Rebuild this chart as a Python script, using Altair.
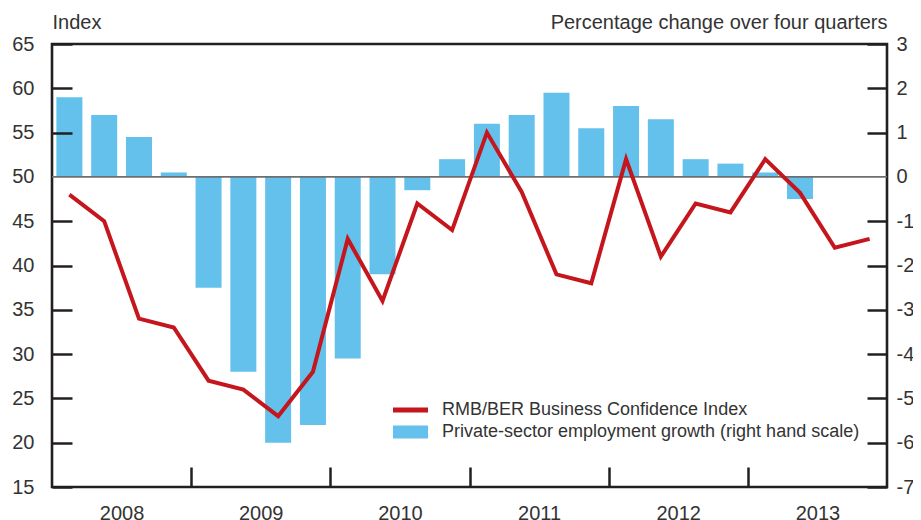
import altair as alt
import pandas as pd

QUARTERS = ["2008Q1", "2008Q2", "2008Q3", "2008Q4",
            "2009Q1", "2009Q2", "2009Q3", "2009Q4",
            "2010Q1", "2010Q2", "2010Q3", "2010Q4",
            "2011Q1", "2011Q2", "2011Q3", "2011Q4",
            "2012Q1", "2012Q2", "2012Q3", "2012Q4",
            "2013Q1", "2013Q2", "2013Q3", "2013Q4"]
YEARS = ["2008", "2009", "2010", "2011", "2012", "2013"]

# RMB/BER Business Confidence Index (left scale)
BCI = [48, 45, 34, 33, 27, 26, 23, 28, 43, 36, 47, 44,
       55, 48.3, 39, 38, 52, 41, 47, 46, 52, 48.2, 42, 43]
# Private-sector employment growth, % change over four quarters (right scale)
EMP = [1.8, 1.4, 0.9, 0.1, -2.5, -4.4, -6.0, -5.6, -4.1, -2.2, -0.3, 0.4,
       1.2, 1.4, 1.9, 1.1, 1.6, 1.3, 0.4, 0.3, 0.1, -0.5]

LEFT_TICKS = [15, 20, 25, 30, 35, 40, 45, 50, 55, 60, 65]
RIGHT_TICKS = [-7, -6, -5, -4, -3, -2, -1, 0, 1, 2, 3]
SERIES = ["RMB/BER Business Confidence Index",
          "Private-sector employment growth (right hand scale)"]

RED = "#c4161c"
BLUE = "#63c1ec"
GRAY = "#6d6e71"
FRAME = "#231f20"
TXT = "#333333"
FONT = "Liberation Sans"

LINE_SYM = "M-1,-0.14H1V0.14H-1Z"
BAR_SYM = "M-1,-0.37H1V0.37H-1Z"

idx = list(range(len(QUARTERS)))
bci_df = pd.DataFrame({"q": idx, "quarter": QUARTERS, "bci": BCI})
emp_df = pd.DataFrame({"q": idx[:len(EMP)], "quarter": QUARTERS[:len(EMP)], "emp": EMP})
zero_df = pd.DataFrame({"z": [0]})
leg_df = pd.DataFrame({"series": SERIES})

W, H = 835, 443

year_arr = "[" + ",".join("'%s'" % y for y in YEARS) + "]"
x_axis = alt.Axis(values=[3.5, 7.5, 11.5, 15.5, 19.5, 23.5],
                  labelExpr=year_arr + "[floor(datum.value / 4)]",
                  labelOffset={"expr": "-width / 12"}, offset=-20, tickSize=20,
                  labelPadding=16, title=None, grid=False, domain=False,
                  labelFlush=False, labelOverlap=False, zindex=1,
                  tickOpacity={"condition": {"test": "datum.value > 23", "value": 0}, "value": 1})
x_enc = alt.X("q:Q", scale=alt.Scale(domain=[-0.5, 23.5], nice=False, zero=False, padding=0),
              axis=x_axis)

right_scale = alt.Scale(domain=[-7, 3], nice=False, zero=False)
right_axis = alt.Axis(orient="right", values=RIGHT_TICKS, labelExpr="'' + datum.value",
                      title="Percentage change over four quarters", titleAngle=0,
                      titleAlign="right", titleBaseline="alphabetic",
                      titleX=20, titleY=-16, offset=-20, tickSize=20,
                      labelPadding=9, grid=False, domain=False, zindex=1,
                      tickOpacity={"condition": {"test": "datum.value == 0", "value": 0}, "value": 1})

left_axis = alt.Axis(orient="left", values=LEFT_TICKS, labelExpr="'' + datum.value",
                     title="Index", titleAngle=0, titleAlign="left",
                     titleBaseline="alphabetic", titleX=-20, titleY=-16,
                     offset=-20, tickSize=20, labelPadding=18, grid=False,
                     domain=False, zindex=1,
                     tickOpacity={"condition": {"test": "datum.value == 50", "value": 0}, "value": 1})

bars = alt.Chart(emp_df).mark_bar(color=BLUE, size=26).encode(
    x=x_enc,
    y=alt.Y("emp:Q", scale=right_scale, axis=right_axis),
    y2=alt.datum(0),
)
zero = alt.Chart(zero_df).mark_rule(color=GRAY, strokeWidth=1.6).encode(
    y=alt.Y("z:Q", scale=right_scale, axis=right_axis)
)

line = alt.Chart(bci_df).mark_line(color=RED, strokeWidth=4, strokeJoin="miter").encode(
    x=x_enc,
    y=alt.Y("bci:Q", scale=alt.Scale(domain=[15, 65], nice=False, zero=False), axis=left_axis),
)

leg = alt.Legend(orient="none", legendX=341, legendY=355, title=None,
                 symbolSize=1225, labelFontSize=18, labelFont=FONT, labelColor=TXT,
                 labelOffset=14, labelLimit=800, clipHeight=22, rowPadding=0, padding=0,
                 symbolStrokeWidth=0, symbolOpacity=1)
legend_layer = alt.Chart(leg_df).mark_point(filled=True, size=0).encode(
    color=alt.Color("series:N", scale=alt.Scale(domain=SERIES, range=[RED, BLUE]), legend=leg),
    shape=alt.Shape("series:N", scale=alt.Scale(domain=SERIES, range=[LINE_SYM, BAR_SYM]), legend=leg),
)

chart = alt.layer(alt.layer(bars, zero), line, legend_layer).resolve_scale(
    y="independent"
).properties(
    width=W, height=H,
    autosize=alt.AutoSizeParams(type="none"),
    padding={"left": 44, "top": 36, "right": 26, "bottom": 34},
    background="white",
).configure_view(
    stroke=FRAME, strokeWidth=2.6
).configure_axis(
    labelFont=FONT, labelFontSize=20, labelColor=TXT,
    titleFont=FONT, titleFontSize=20, titleColor=TXT, titleFontWeight="normal",
    tickColor=FRAME, tickWidth=2.5,
)

chart.save("out.html", embed_options={"renderer": "svg", "actions": False})
